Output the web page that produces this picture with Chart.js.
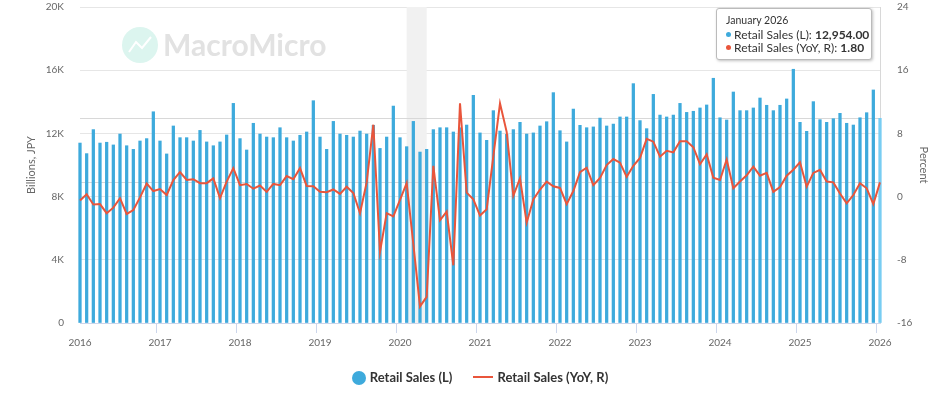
<!DOCTYPE html>
<html>
<head>
<meta charset="utf-8">
<script src="https://cdn.jsdelivr.net/npm/chart.js@4.4.1/dist/chart.umd.min.js"></script>
<style>
  html, body { margin: 0; padding: 0; background: #fff; }
  #wrap { position: relative; width: 932px; height: 394px; font-family: Lato, "Open Sans", sans-serif; color: #333; }
  #chart { position: absolute; left: 0; top: 0; }
  #legend { position: absolute; left: 80px; width: 800px; top: 367px; text-align: center; font-size: 13px; font-weight: bold; color: #333; white-space: nowrap; }
  #legend span.item { display: inline-block; margin: 0 9px; vertical-align: middle; }
  #legend .dot { display: inline-block; width: 14px; height: 14px; border-radius: 50%; background: #3eaadc; vertical-align: -3px; margin-right: 4px; }
  #legend .ln { display: inline-block; width: 20px; height: 2px; background: #e9553b; vertical-align: 4px; margin-right: 4px; }
  #tip { position: absolute; left: 716px; top: 8px; width: 156px; height: 52px; background: #fff; border: 1px solid #bbb; border-radius: 3px; box-shadow: 1px 1px 3px rgba(0,0,0,0.25); font-size: 12px; line-height: 13px; box-sizing: border-box; padding: 5px 0 0 9px; }
  #tip .t { font-size: 10.5px; margin-bottom: 1px; }
  #tip .b { display: inline-block; width: 5px; height: 5px; border-radius: 50%; margin-right: 3px; vertical-align: 2px; }
</style>
</head>
<body>
<div id="wrap">
  <canvas id="chart" width="932" height="394"></canvas>
  <div id="tip"></div>
  <div id="legend">
    <span class="item"><span class="dot"></span>Retail Sales (L)</span>
    <span class="item"><span class="ln"></span>Retail Sales (YoY, R)</span>
  </div>
</div>
<script>
// monthly, Jan 2016 .. Jan 2026
const startYear = 2016;
const years = [2016, 2017, 2018, 2019, 2020, 2021, 2022, 2023, 2024, 2025, 2026];
const monthNames = ['January', 'February', 'March', 'April', 'May', 'June', 'July',
    'August', 'September', 'October', 'November', 'December'];

// Retail Sales, billions JPY (left axis)
const sales = [
    11390, 10720, 12240, 11390, 11440, 11270, 11960, 11220, 10990, 11520, 11670, 13370,
    11520, 10700, 12470, 11730, 11730, 11520, 12190, 11460, 11220, 11460, 11900, 13900,
    11670, 10950, 12640, 11960, 11770, 11730, 12360, 11730, 11520, 11880, 12090, 14070,
    11770, 10990, 12760, 11960, 11880, 11770, 12150, 11960, 12510, 11050, 11770, 13730,
    11730, 11160, 12760, 10820, 10990, 12240, 12360, 12360, 12090, 12360, 12530, 14410,
    12030, 11560, 13440, 12150, 11940, 12240, 12700, 11960, 12030, 12470, 12740, 14580,
    12170, 11460, 13540, 12510, 12360, 12410, 12970, 12470, 12590, 13040, 13040, 15150,
    12810, 12300, 14470, 13160, 13040, 13160, 13900, 13330, 13400, 13610, 13800, 15490,
    12990, 12850, 14620, 13440, 13440, 13610, 14240, 13780, 13440, 13780, 14180, 16060,
    12700, 12130, 14010, 12870, 12700, 12930, 13270, 12640, 12530, 12990, 13310, 14750,
    12954
];

// Retail Sales YoY, % (right axis)
const yoy = [
    -0.5, 0.3, -1.0, -0.95, -2.1, -1.4, -0.2, -2.2, -1.7, -0.1, 1.65, 0.7,
    0.95, 0.2, 2.1, 3.1, 2.1, 2.2, 1.7, 1.7, 2.3, -0.2, 1.9, 3.6,
    1.45, 1.6, 1.0, 1.4, 0.6, 1.6, 1.45, 2.6, 2.2, 3.6, 1.35, 1.3,
    0.6, 0.55, 0.9, 0.35, 1.25, 0.45, -2.1, 1.8, 9.1, -7.0, -2.1, -2.5,
    -0.4, 1.7, -6.0, -13.9, -12.7, 3.9, -3.0, -1.9, -8.7, 11.8, 0.5, -0.35,
    -2.4, -1.6, 5.1, 11.8, 8.2, 0.1, 2.3, -3.3, -0.35, 0.9, 1.9, 1.3,
    1.1, -0.95, 0.7, 3.1, 3.65, 1.45, 2.35, 4.0, 4.75, 4.3, 2.5, 3.9,
    4.9, 7.3, 6.95, 5.05, 5.8, 5.6, 7.0, 7.0, 6.25, 4.1, 5.35, 2.4,
    2.1, 4.7, 1.05, 1.9, 2.7, 3.8, 2.65, 3.0, 0.6, 1.2, 2.65, 3.4,
    4.35, 1.25, 3.0, 3.4, 1.9, 1.8, 0.4, -0.85, 0.2, 1.7, 1.05, -0.95,
    1.8
];

// shaded period
const bandStart = '2020-02';
const bandEnd = '2020-05';

const labels = sales.map((v, i) => {
    const y = startYear + Math.floor(i / 12);
    const m = (i % 12) + 1;
    return y + '-' + String(m).padStart(2, '0');
});
const hoverIdx = labels.length - 1;

const BLUE = '#3eaadc';
const BLUE_HOVER = '#78cdf2';
const RED = '#e9553b';

// tooltip box for the hovered month
const hl = labels[hoverIdx];
document.getElementById('tip').innerHTML =
    '<div class="t">' + monthNames[parseInt(hl.slice(5), 10) - 1] + ' ' + hl.slice(0, 4) + '</div>' +
    '<div><span class="b" style="background:' + BLUE + '"></span>Retail Sales (L): <b>' +
    sales[hoverIdx].toLocaleString('en-US', { minimumFractionDigits: 2 }) + '</b></div>' +
    '<div><span class="b" style="background:' + RED + '"></span>Retail Sales (YoY, R): <b>' +
    yoy[hoverIdx].toFixed(2) + '</b></div>';

const decor = {
    id: 'decor',
    beforeDraw(chart) {
        const c = chart.ctx;
        c.save();
        // watermark
        c.fillStyle = '#dcf5ef';
        c.beginPath();
        c.arc(140, 45, 18, 0, Math.PI * 2);
        c.fill();
        c.strokeStyle = '#ffffff';
        c.lineWidth = 2;
        c.beginPath();
        c.moveTo(129, 52); c.lineTo(136, 42); c.lineTo(142, 48); c.lineTo(151, 37);
        c.stroke();
        c.fillStyle = '#e2e2e2';
        c.font = 'bold 30px Lato, sans-serif';
        c.textBaseline = 'alphabetic';
        c.fillText('MacroMicro', 163, 56);
        c.restore();
    },
    beforeDatasetsDraw(chart) {
        const c = chart.ctx;
        const a = chart.chartArea;
        const x = chart.scales.x;
        c.save();
        // shaded band
        const x0 = x.getPixelForValue(labels.indexOf(bandStart));
        const x1 = x.getPixelForValue(labels.indexOf(bandEnd));
        c.fillStyle = '#f1f1f1';
        c.fillRect(x0, a.top, x1 - x0, a.bottom - a.top);
        // crosshair
        c.strokeStyle = '#d8d8d8';
        c.lineWidth = 1;
        const yl = Math.round(chart.scales.yL.getPixelForValue(sales[hoverIdx])) + 0.5;
        const yr = Math.round(chart.scales.yR.getPixelForValue(yoy[hoverIdx])) + 0.5;
        const xv = Math.round(x.getPixelForValue(hoverIdx)) + 0.5;
        c.beginPath();
        c.moveTo(a.left, yl); c.lineTo(a.right, yl);
        c.moveTo(a.left, yr); c.lineTo(a.right, yr);
        c.moveTo(xv, a.top); c.lineTo(xv, a.bottom);
        c.stroke();
        c.restore();
    }
};

const tickFont = { family: 'Lato, sans-serif', size: 10 };

new Chart(document.getElementById('chart'), {
    data: {
        labels: labels,
        datasets: [
            {
                type: 'line',
                label: 'Retail Sales (YoY, R)',
                data: yoy,
                yAxisID: 'yR',
                borderColor: RED,
                borderWidth: 2,
                pointRadius: 0,
                tension: 0,
                clip: false,
                order: 1
            },
            {
                type: 'bar',
                label: 'Retail Sales (L)',
                data: sales,
                yAxisID: 'yL',
                backgroundColor: sales.map((v, i) => i === hoverIdx ? BLUE_HOVER : BLUE),
                barThickness: 2.6,
                clip: false,
                order: 2
            }
        ]
    },
    options: {
        responsive: false,
        animation: false,
        events: [],
        layout: { padding: { top: 7, bottom: 41, left: 0, right: 0 } },
        plugins: {
            legend: { display: false },
            tooltip: { enabled: false }
        },
        scales: {
            x: {
                offset: false,
                grid: {
                    drawOnChartArea: false,
                    tickLength: 10,
                    color: ctx => (ctx.index % 12 === 0) ? '#ccd6eb' : 'rgba(0,0,0,0)'
                },
                border: { color: '#ccd6eb' },
                ticks: {
                    autoSkip: false,
                    maxRotation: 0,
                    padding: 4,
                    color: '#666',
                    font: tickFont,
                    callback: (v, i) => labels[i].endsWith('-01') ? labels[i].slice(0, 4) : ''
                },
                afterFit(s) { s.height = 30; }
            },
            yL: {
                position: 'left',
                min: 0,
                max: 20000,
                ticks: {
                    stepSize: 4000,
                    padding: 0,
                    color: '#666',
                    font: tickFont,
                    callback: v => v === 0 ? '0' : (v / 1000) + 'K'
                },
                grid: { color: '#e6e6e6', tickLength: 16, tickColor: 'rgba(0,0,0,0)' },
                border: { display: false },
                title: {
                    display: true,
                    text: 'Billions, JPY',
                    color: '#666',
                    font: { family: 'Lato, sans-serif', size: 11 },
                    padding: { top: 25, bottom: 0 }
                },
                afterFit(s) { s.width = 80; }
            },
            yR: {
                position: 'right',
                min: -16,
                max: 24,
                ticks: {
                    stepSize: 8,
                    padding: 0,
                    color: '#666',
                    font: tickFont
                },
                grid: { drawOnChartArea: false, tickLength: 17, tickColor: 'rgba(0,0,0,0)' },
                border: { display: false },
                title: {
                    display: true,
                    text: 'Percent',
                    color: '#666',
                    font: { family: 'Lato, sans-serif', size: 11 },
                    padding: { top: 2, bottom: 0 }
                },
                afterFit(s) { s.width = 52; }
            }
        }
    },
    plugins: [decor]
});
</script>
</body>
</html>
